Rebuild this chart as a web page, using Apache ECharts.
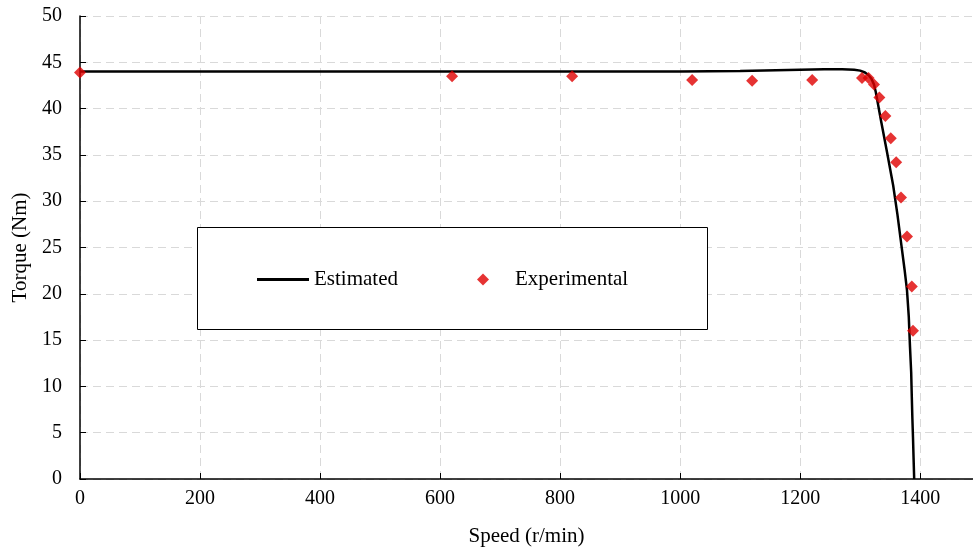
<!DOCTYPE html>
<html>
<head>
<meta charset="utf-8">
<title>Torque vs Speed</title>
<script src="https://cdn.jsdelivr.net/npm/echarts@6/dist/echarts.min.js"></script>
<style>
    html, body { margin: 0; padding: 0; background: #fff; }
    #chart { width: 973px; height: 554px; }
</style>
</head>
<body>
<div id="chart"></div>
<script>
// estimated torque-speed curve
var speedEst = [0, 200, 400, 600, 800, 1000, 1100, 1160, 1200, 1240, 1270, 1290, 1300, 1308, 1314, 1319, 1323, 1326, 1335, 1345, 1355, 1362, 1369, 1374, 1378, 1381, 1383, 1385, 1386, 1387, 1388, 1389, 1390];
var torqueEst = [44.0, 44.0, 44.0, 44.0, 44.0, 44.0, 44.05, 44.15, 44.2, 44.25, 44.25, 44.2, 44.1, 43.9, 43.6, 43.2, 42.6, 41.8, 38.6, 35.2, 31.7, 28.6, 25.1, 22.6, 20.4, 17.5, 14.3, 11.5, 8.9, 6.5, 4.5, 2.2, 0];

// measured points
var speedExp = [0, 620, 820, 1020, 1120, 1220, 1303, 1314, 1323, 1332, 1342, 1351, 1360, 1368, 1378, 1386, 1388];
var torqueExp = [43.9, 43.5, 43.5, 43.1, 43.0, 43.1, 43.3, 43.3, 42.6, 41.2, 39.2, 36.8, 34.2, 30.4, 26.2, 20.8, 16.0];

var seriesNames = ['Estimated', 'Experimental'];

var font = 'Liberation Serif, Times New Roman, serif';

function pairs(xs, ys) {
    var out = [];
    for (var i = 0; i < xs.length; i++) {
        out.push([xs[i], ys[i]]);
    }
    return out;
}

var myChart = echarts.init(document.getElementById('chart'));

var gridLine = { show: true, lineStyle: { color: '#d9d9d9', type: [8, 5], width: 1 } };

var option = {
    animation: false,
    backgroundColor: '#fff',
    textStyle: { fontFamily: font, color: '#000' },
    grid: { left: 80, top: 16, bottom: 75, right: 0 },
    graphic: [{
        type: 'rect',
        z: 3,
        shape: { x: 197.5, y: 227.5, width: 510, height: 102 },
        style: { fill: '#fff', stroke: '#000', lineWidth: 1 }
    }],
    legend: [{
        data: [{ name: seriesNames[0], icon: 'rect' }],
        left: 252,
        top: 264,
        itemWidth: 52,
        itemHeight: 3,
        itemGap: 0,
        textStyle: { fontFamily: font, fontSize: 21, color: '#000' },
        z: 5
    }, {
        data: [seriesNames[1]],
        left: 472,
        top: 264,
        itemWidth: 12,
        itemHeight: 12,
        textStyle: { fontFamily: font, fontSize: 21, color: '#000', padding: [0, 0, 0, 21] },
        z: 5
    }],
    xAxis: {
        type: 'value',
        min: 0,
        max: 1488,
        interval: 200,
        name: 'Speed (r/min)',
        nameLocation: 'middle',
        nameGap: 47,
        nameTextStyle: { fontFamily: font, fontSize: 21, color: '#000' },
        axisLine: { show: true, lineStyle: { color: '#000', width: 1.5 } },
        axisTick: { show: true, inside: true, length: 6, lineStyle: { color: '#000' } },
        axisLabel: {
            fontFamily: font, fontSize: 20, color: '#000', margin: 10, showMaxLabel: false,
            formatter: function (v) { return v % 200 === 0 ? String(v) : ''; }
        },
        splitLine: gridLine
    },
    yAxis: {
        type: 'value',
        min: 0,
        max: 50,
        interval: 5,
        name: 'Torque (Nm)',
        nameLocation: 'middle',
        nameGap: 45,
        nameTextStyle: { fontFamily: font, fontSize: 21, color: '#000' },
        axisLine: { show: true, lineStyle: { color: '#000', width: 1.5 } },
        axisTick: { show: true, inside: true, length: 6, lineStyle: { color: '#000' } },
        axisLabel: { fontFamily: font, fontSize: 20, color: '#000', margin: 18 },
        splitLine: gridLine
    },
    series: [{
        name: seriesNames[0],
        type: 'line',
        data: pairs(speedEst, torqueEst),
        symbol: 'none',
        smooth: false,
        lineStyle: { color: '#000', width: 2.5 },
        itemStyle: { color: '#000' },
        z: 2
    }, {
        name: seriesNames[1],
        type: 'scatter',
        data: pairs(speedExp, torqueExp),
        symbol: 'diamond',
        symbolSize: 12,
        itemStyle: { color: '#e00000' },
        z: 4
    }]
};

myChart.setOption(option);
</script>
</body>
</html>
